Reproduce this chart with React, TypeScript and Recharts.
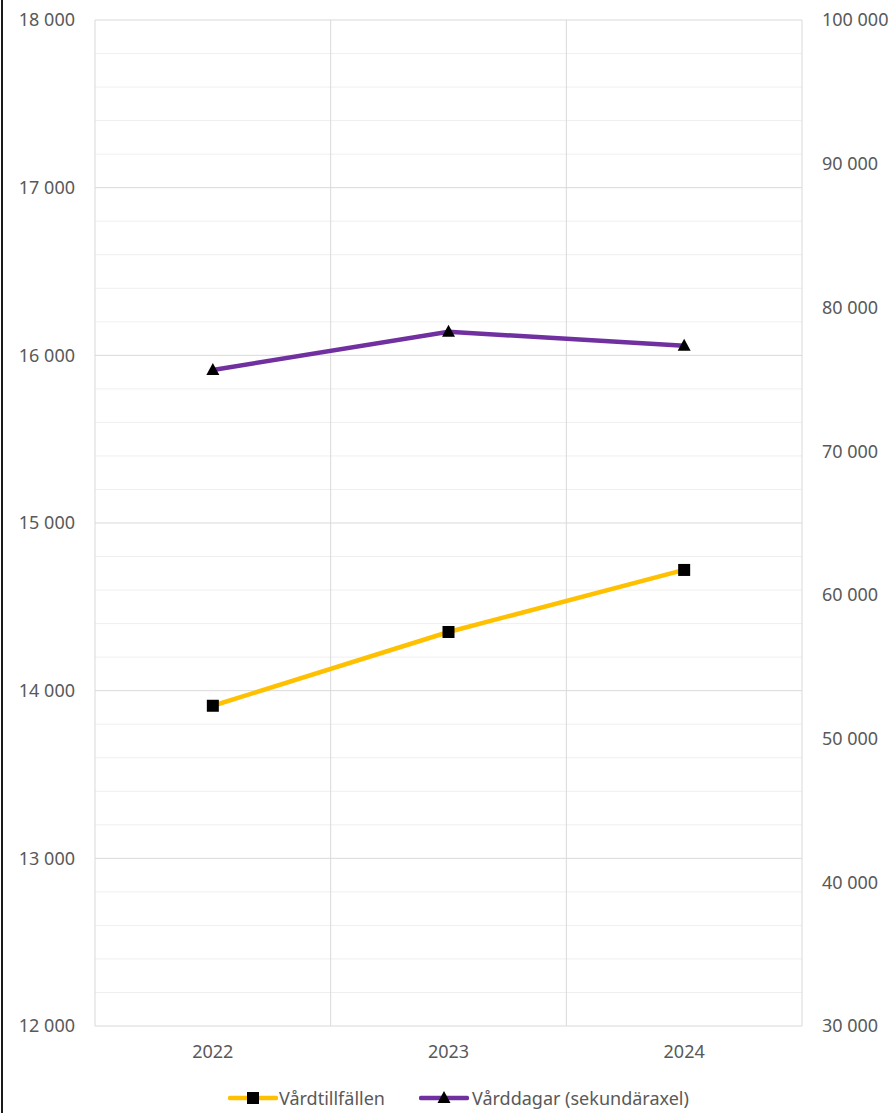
import React from "react";
import { LineChart, Line, XAxis, YAxis, ReferenceLine } from "recharts";

const years = [2022, 2023, 2024];
const vardtillfallen = [13910, 14350, 14720];
const varddagar = [75650, 78300, 77340];

const leftTicks = [12000, 13000, 14000, 15000, 16000, 17000, 18000];
const leftMinor = [
  12200, 12400, 12600, 12800, 13200, 13400, 13600, 13800, 14200, 14400, 14600, 14800,
  15200, 15400, 15600, 15800, 16200, 16400, 16600, 16800, 17200, 17400, 17600, 17800,
];
const rightTicks = [30000, 40000, 50000, 60000, 70000, 80000, 90000, 100000];
const categoryEdges = [2021.5, 2022.5, 2023.5, 2024.5];

const YELLOW = "#FFC000";
const PURPLE = "#7030A0";
const FONT = "'Noto Sans', sans-serif";
const TEXT = "#595959";

const data = years.map((y, i) => ({
  year: y,
  vardtillfallen: vardtillfallen[i],
  varddagar: varddagar[i],
}));

const fmt = (n: number) => String(n).replace(/\B(?=(\d{3})+(?!\d))/g, " ");

const SquareDot = (props: any) => {
  const { cx, cy } = props;
  if (cx == null || cy == null) return null;
  return <rect x={cx - 6} y={cy - 6} width={12} height={12} fill="#000" />;
};

const TriangleDot = (props: any) => {
  const { cx, cy } = props;
  if (cx == null || cy == null) return null;
  return <path d={`M${cx},${cy - 7} L${cx + 6.5},${cy + 5} L${cx - 6.5},${cy + 5} Z`} fill="#000" />;
};

const tickStyle = { fill: TEXT, fontSize: 18, fontFamily: FONT };

export default function App() {
  return (
    <div style={{ position: "absolute", left: 0, top: 0, width: 890, height: 1113, background: "#fff" }}>
      <div style={{ position: "absolute", left: 1, top: 0, width: 2, height: 1113, background: "#1a1a1a" }} />
      <LineChart
        width={890}
        height={1113}
        data={data}
        margin={{ top: 20, right: 0, bottom: 47, left: 0 }}
      >
        <XAxis
          dataKey="year"
          type="number"
          domain={[2021.5, 2024.5]}
          ticks={years}
          allowDataOverflow
          axisLine={false}
          tickLine={false}
          tickSize={0}
          tickMargin={19}
          height={40}
          tick={tickStyle}
        />
        <YAxis
          yAxisId="left"
          domain={[12000, 18000]}
          ticks={leftTicks}
          tickFormatter={fmt}
          axisLine={false}
          tickLine={false}
          tickSize={0}
          tickMargin={20}
          width={95}
          tick={tickStyle}
        />
        <YAxis
          yAxisId="right"
          orientation="right"
          domain={[30000, 100000]}
          ticks={rightTicks}
          tickFormatter={fmt}
          axisLine={false}
          tickLine={false}
          tickSize={0}
          tickMargin={20}
          width={88}
          tick={{ ...tickStyle, textAnchor: "start" }}
        />
        {leftMinor.map((v) => (
          <ReferenceLine key={`m${v}`} yAxisId="left" y={v} stroke="#efefef" strokeWidth={1} />
        ))}
        {leftTicks.map((v) => (
          <ReferenceLine key={`M${v}`} yAxisId="left" y={v} stroke="#d9d9d9" strokeWidth={1} />
        ))}
        {categoryEdges.map((v) => (
          <ReferenceLine key={`x${v}`} yAxisId="left" x={v} stroke="#d9d9d9" strokeWidth={1} />
        ))}
        <Line
          yAxisId="left"
          dataKey="vardtillfallen"
          stroke={YELLOW}
          strokeWidth={4.5}
          dot={<SquareDot />}
          activeDot={false}
          isAnimationActive={false}
        />
        <Line
          yAxisId="right"
          dataKey="varddagar"
          stroke={PURPLE}
          strokeWidth={4.5}
          dot={<TriangleDot />}
          activeDot={false}
          isAnimationActive={false}
        />
      </LineChart>
      <div
        style={{
          position: "absolute",
          left: 228,
          top: 1086,
          display: "flex",
          alignItems: "center",
          fontFamily: FONT,
          fontSize: 18,
          color: TEXT,
          whiteSpace: "nowrap",
        }}
      >
        <svg width={50} height={24} style={{ marginRight: 1 }}>
          <line x1={2} y1={12} x2={48} y2={12} stroke={YELLOW} strokeWidth={4.5} strokeLinecap="round" />
          <rect x={19} y={6} width={12} height={12} fill="#000" />
        </svg>
        <span>Vårdtillfällen</span>
        <svg width={50} height={24} style={{ marginLeft: 34, marginRight: 3 }}>
          <line x1={2} y1={12} x2={48} y2={12} stroke={PURPLE} strokeWidth={4.5} strokeLinecap="round" />
          <path d="M25,5 L31.5,17 L18.5,17 Z" fill="#000" />
        </svg>
        <span>Vårddagar (sekundäraxel)</span>
      </div>
    </div>
  );
}
